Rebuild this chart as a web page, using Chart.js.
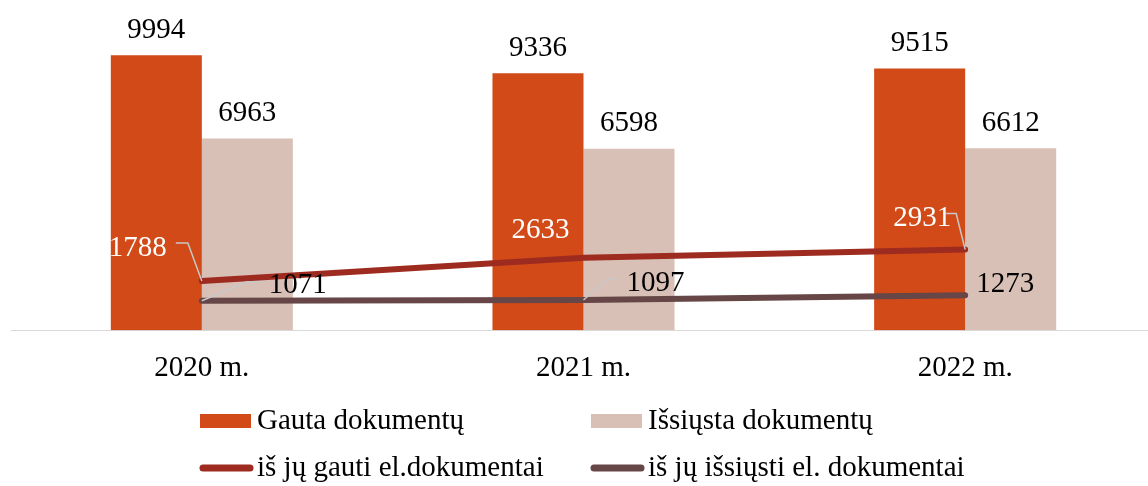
<!DOCTYPE html>
<html>
<head>
<meta charset="utf-8">
<script src="https://cdn.jsdelivr.net/npm/chart.js"></script>
<style>
  html, body { margin: 0; padding: 0; background: #fff; overflow: hidden; }
  #wrap { width: 1157px; height: 486px; }
</style>
</head>
<body>
<div id="wrap"><canvas id="chart"></canvas></div>
<script>
// Data
const years = ['2020 m.', '2021 m.', '2022 m.'];
const received = [9994, 9336, 9515];
const sent = [6963, 6598, 6612];
const receivedElectronic = [1788, 2633, 2931];
const sentElectronic = [1071, 1097, 1273];

const FONT = 'Liberation Serif, Times New Roman, serif';
const FS = 29;

// label offsets for the line series (relative to the point) + leader lines
const lineLabelSpots = {
  2: [
    { dx: -64, dy: -33, color: '#fff', leader: [[-26, -38], [-14, -38], [0, 0]] },
    { dx: -43, dy: -27, color: '#fff' },
    { dx: -43, dy: -31, color: '#fff', leader: [[-19, -36], [-9, -36], [0, 0]] }
  ],
  3: [
    { dx: 96, dy: -15, color: '#000', leader: [[0, 0], [45, -19], [60, -19]] },
    { dx: 72, dy: -17, color: '#000', leader: [[0, 0], [24, -21], [34, -21]] },
    { dx: 40, dy: -11, color: '#000' }
  ]
};

const valueLabels = {
  id: 'valueLabels',
  afterDatasetsDraw(chart) {
    const ctx = chart.ctx;
    ctx.save();
    ctx.font = FS + 'px ' + FONT;
    ctx.textAlign = 'center';
    ctx.textBaseline = 'middle';
    chart.data.datasets.forEach((ds, di) => {
      const meta = chart.getDatasetMeta(di);
      meta.data.forEach((el, i) => {
        const v = ds.data[i];
        if (ds.type === 'bar') {
          ctx.fillStyle = '#000';
          ctx.fillText(v, el.x, el.y - 25);
        } else {
          const s = lineLabelSpots[di][i];
          if (s.leader) {
            ctx.strokeStyle = '#c8c8c8';
            ctx.lineWidth = 1.5;
            ctx.beginPath();
            s.leader.forEach((p, k) => {
              if (k === 0) ctx.moveTo(el.x + p[0], el.y + p[1]);
              else ctx.lineTo(el.x + p[0], el.y + p[1]);
            });
            ctx.stroke();
          }
          ctx.fillStyle = s.color;
          ctx.fillText(v, el.x + s.dx, el.y + s.dy);
        }
      });
    });
    ctx.restore();
  }
};

const customLegend = {
  id: 'customLegend',
  afterDraw(chart) {
    const ctx = chart.ctx;
    const cols = [200, 591];
    const rows = [421, 468];
    ctx.save();
    ctx.font = FS + 'px ' + FONT;
    ctx.textBaseline = 'middle';
    ctx.textAlign = 'left';
    chart.data.datasets.forEach((ds, di) => {
      const x = cols[di % 2];
      const y = rows[Math.floor(di / 2)];
      if (ds.type === 'bar') {
        ctx.fillStyle = ds.backgroundColor;
        ctx.fillRect(x, y - 7, 51, 14);
      } else {
        ctx.strokeStyle = ds.borderColor;
        ctx.lineWidth = 7;
        ctx.lineCap = 'round';
        ctx.beginPath();
        ctx.moveTo(x + 3, y);
        ctx.lineTo(x + 50, y);
        ctx.stroke();
      }
      ctx.fillStyle = '#000';
      ctx.fillText(ds.label, x + 57, y);
    });
    ctx.restore();
  }
};

new Chart(document.getElementById('chart'), {
  data: {
    labels: years,
    datasets: [
      { type: 'bar', label: 'Gauta dokumentų', data: received, backgroundColor: '#d24a18', order: 2 },
      { type: 'bar', label: 'Išsiųsta dokumentų', data: sent, backgroundColor: '#d9c0b6', order: 2 },
      { type: 'line', label: 'iš jų gauti el.dokumentai', data: receivedElectronic, borderColor: '#9e2b1f',
        borderWidth: 6, borderCapStyle: 'round', pointRadius: 0, tension: 0, order: 1 },
      { type: 'line', label: 'iš jų išsiųsti el. dokumentai', data: sentElectronic, borderColor: '#664646',
        borderWidth: 6, borderCapStyle: 'round', pointRadius: 0, tension: 0, order: 0 }
    ]
  },
  options: {
    responsive: true,
    maintainAspectRatio: false,
    animation: false,
    layout: { padding: { left: 11, right: 1, top: 0, bottom: 79 } },
    datasets: { bar: { categoryPercentage: 0.477, barPercentage: 1.0 } },
    scales: {
      x: {
        grid: { display: false, drawTicks: false },
        border: { display: true, color: '#d9d9d9', width: 1 },
        ticks: { color: '#000', font: { family: FONT, size: FS }, padding: 21 }
      },
      y: { display: false, min: 0, max: 12000 }
    },
    plugins: { legend: { display: false }, tooltip: { enabled: false } }
  },
  plugins: [valueLabels, customLegend]
});
</script>
</body>
</html>
